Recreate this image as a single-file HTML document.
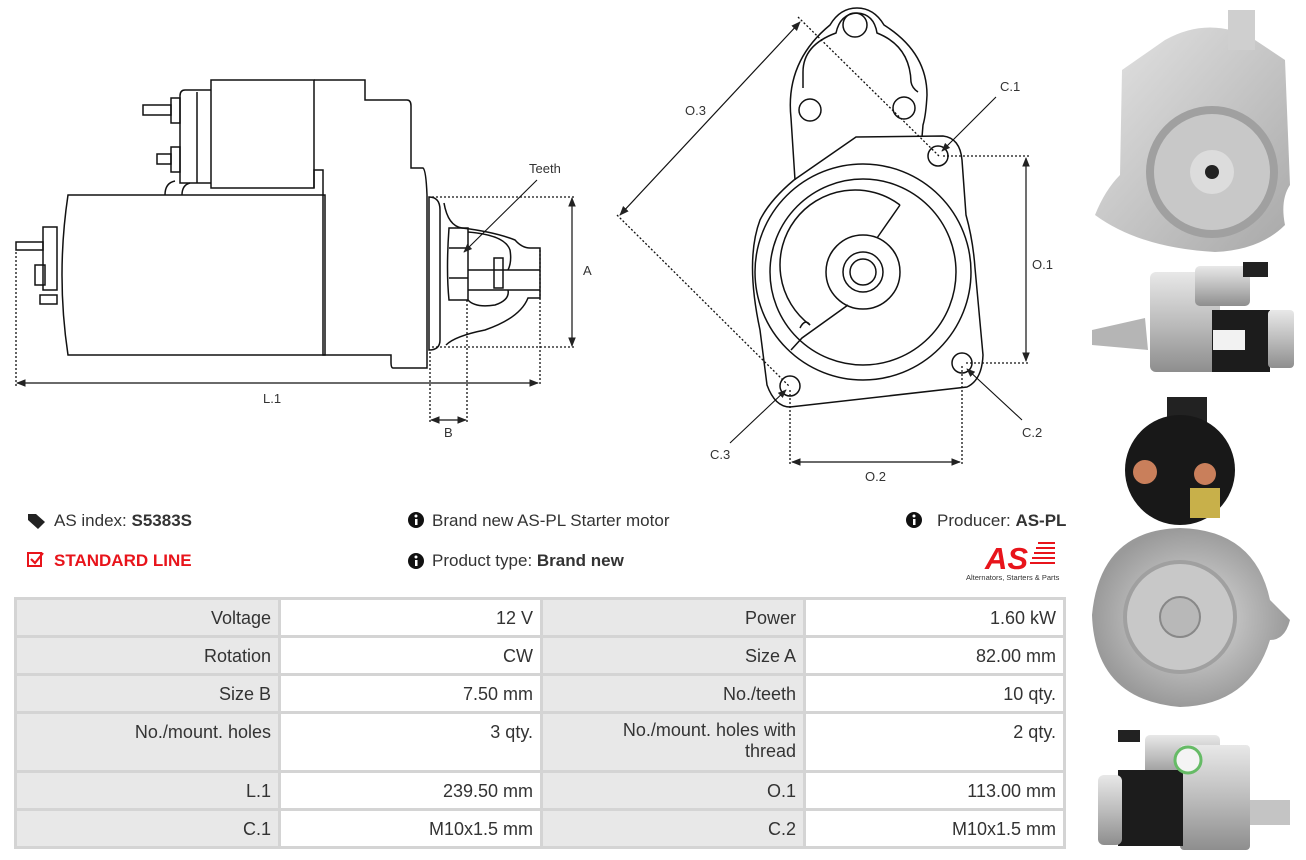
<!DOCTYPE html>
<html><head><meta charset="utf-8"><style>
html,body{margin:0;padding:0;background:#fff;width:1306px;height:860px;overflow:hidden;position:relative;font-family:"Liberation Sans",sans-serif;color:#333}
.t{position:absolute;white-space:nowrap;font-size:17px;line-height:20px}
table{position:absolute;left:14px;top:597px;border-collapse:collapse;width:1052px;font-size:18px;color:#333}
td{border:3px solid #d4d4d4;text-align:right;padding:0 7px;vertical-align:top;padding-top:8px;box-sizing:border-box}
td.l{background:#e8e8e8}
</style></head><body>
<svg width="1306" height="860" style="position:absolute;left:0;top:0" xmlns="http://www.w3.org/2000/svg">
<defs>
<marker id="a" viewBox="0 0 10 10" refX="9" refY="5" markerWidth="8" markerHeight="8" orient="auto-start-reverse"><path d="M0,1 L10,5 L0,9 Z" fill="#222"/></marker>
<linearGradient id="sv" x1="0" y1="0" x2="0" y2="1"><stop offset="0" stop-color="#e8e8e8"/><stop offset=".5" stop-color="#bdbdbd"/><stop offset="1" stop-color="#8e8e8e"/></linearGradient>
<linearGradient id="sv2" x1="0" y1="0" x2="1" y2="1"><stop offset="0" stop-color="#e4e4e4"/><stop offset="1" stop-color="#a8a8a8"/></linearGradient>
<radialGradient id="rg"><stop offset="0" stop-color="#e0e0e0"/><stop offset="1" stop-color="#9a9a9a"/></radialGradient>
</defs>
<g fill="none" stroke="#111" stroke-width="1.5">
<path d="M68,195 L325,195 L325,355 L68,355 Q56,275 68,195 Z"/>
<rect x="43" y="227" width="14" height="63"/>
<rect x="35" y="265" width="10" height="20"/>
<rect x="16" y="242" width="27" height="8"/>
<rect x="40" y="295" width="17" height="9"/>
<rect x="211" y="80" width="103" height="108"/>
<path d="M211,90 L185,90 Q180,90 180,96 L180,183 L211,183"/>
<line x1="197" y1="92" x2="197" y2="183"/>
<rect x="171" y="98" width="9" height="25"/><rect x="143" y="105" width="28" height="10"/>
<rect x="171" y="147" width="9" height="25"/><rect x="157" y="154" width="14" height="10"/>
<path d="M165,195 Q165,183 175,181 M182,195 Q182,185 190,183"/>
<path d="M314,80 L365,80 L365,100 L407,100 Q411,100 411,106 L411,168 L423,168 Q426,170 427,195 L427,350 L427,368 L393,368 Q391,368 391,362 L391,355 L323,355 L323,170 L314,170 L314,188"/>
<path d="M429,197 Q440,197 440,210 L440,340 Q440,350 429,350 Z"/>
<path d="M444,203 Q448,226 462,228 Q495,232 515,240 Q522,248 530,248 L540,248 L540,298 L528,298 Q520,318 485,330 Q455,336 446,345"/>
<path d="M449,228 L468,228 L468,300 L449,300 Q446,270 449,228 Z"/>
<path d="M449,248 L468,248 M449,278 L468,278 M468,270 L540,270 M468,290 L540,290"/>
<rect x="494" y="258" width="9" height="30"/>
<path d="M468,232 Q505,235 510,250 Q512,262 508,270 M508,290 Q510,300 495,305 Q475,308 468,300"/>
<path d="M795,180 L791,118 Q785,62 830,25 Q840,8 857,8 Q874,8 884,25 Q927,52 927,95 Q926,115 923,125 L922,137"/>
<path d="M803,88 L803,72 Q803,45 836,33 Q840,14 857,13 Q874,14 877,33 Q910,46 911,82 Q912,88 918,92"/>
<circle cx="855" cy="25" r="12"/><circle cx="810" cy="110" r="11"/><circle cx="904" cy="108" r="11"/>
<path d="M856,137 L943,136 Q960,138 962,160 L966,215 Q973,240 975,268 L983,355 Q982,380 967,387 L790,407 Q775,407 767,385 L760,330 Q745,260 760,220 Q770,200 794,180 Z"/>
<circle cx="863" cy="272" r="108"/><circle cx="863" cy="272" r="93"/>
<path d="M900,205 A73,73 0 1 0 810,325"/>
<path d="M810,325 Q805,318 800,328 M900,205 L877,238 M848,305 L802,338 L791,350"/>
<circle cx="863" cy="272" r="37"/><circle cx="863" cy="272" r="20"/><circle cx="863" cy="272" r="13"/>
<circle cx="938" cy="156" r="10"/><circle cx="962" cy="363" r="10"/><circle cx="790" cy="386" r="10"/>
</g>
<g fill="none" stroke="#111" stroke-width="1.3" stroke-dasharray="2,2">
<path d="M432,197 L574,197 M432,347 L574,347 M540,250 L540,386 M430,352 L430,424 M467,300 L467,424 M16,252 L16,386"/>
<path d="M798,17 L940,157 M617,215 L790,387 M943,156 L1030,156 M966,363 L1030,363 M790,390 L790,466 M962,366 L962,466"/>
</g>
<g stroke="#111" stroke-width="1.2" fill="none" marker-end="url(#a)" marker-start="url(#a)">
<line x1="572" y1="198" x2="572" y2="346"/>
<line x1="17" y1="383" x2="538" y2="383"/>
<line x1="431" y1="420" x2="466" y2="420"/>
<line x1="800" y1="22" x2="620" y2="215"/>
<line x1="1026" y1="158" x2="1026" y2="361"/>
<line x1="792" y1="462" x2="960" y2="462"/>
</g>
<g stroke="#111" stroke-width="1.1" fill="none" marker-end="url(#a)">
<line x1="537" y1="180" x2="464" y2="252"/>
<line x1="996" y1="97" x2="942" y2="151"/>
<line x1="1022" y1="420" x2="967" y2="369"/>
<line x1="730" y1="443" x2="786" y2="390"/>
</g>
<g font-family="Liberation Sans,sans-serif" font-size="13" fill="#333">
<text x="529" y="173">Teeth</text><text x="583" y="275">A</text><text x="263" y="403">L.1</text><text x="444" y="437">B</text>
<text x="685" y="115">O.3</text><text x="1000" y="91">C.1</text><text x="1032" y="269">O.1</text><text x="1022" y="437">C.2</text><text x="710" y="459">C.3</text><text x="865" y="481">O.2</text>
</g>
<g>
<path d="M1165,40 Q1210,15 1255,40 L1285,60 L1290,185 Q1280,200 1285,225 Q1260,250 1215,252 Q1140,248 1095,215 Q1105,190 1120,175 L1122,70 Z" fill="url(#sv2)"/>
<rect x="1228" y="10" width="27" height="40" fill="#cfcfcf"/>
<circle cx="1212" cy="172" r="62" fill="#c8c8c8" stroke="#a0a0a0" stroke-width="8"/>
<circle cx="1212" cy="172" r="22" fill="#dcdcdc"/><circle cx="1212" cy="172" r="7" fill="#222"/>
<rect x="1150" y="272" width="70" height="100" rx="6" fill="url(#sv)"/>
<rect x="1195" y="266" width="55" height="40" rx="5" fill="url(#sv)"/>
<rect x="1212" y="310" width="58" height="62" fill="#1c1c1c"/>
<rect x="1213" y="330" width="32" height="20" fill="#f2f2f2"/>
<rect x="1268" y="310" width="26" height="58" rx="4" fill="url(#sv)"/>
<path d="M1092,330 L1145,318 L1148,350 L1092,345 Z" fill="#b5b5b5"/>
<rect x="1243" y="262" width="25" height="15" fill="#222"/>
<rect x="1167" y="397" width="40" height="45" fill="#222"/>
<circle cx="1180" cy="470" r="55" fill="#181818"/>
<path d="M1092,615 Q1100,530 1180,528 Q1255,530 1270,600 L1290,620 Q1285,640 1270,640 Q1250,705 1180,707 Q1095,700 1092,615 Z" fill="url(#rg)"/>
<circle cx="1180" cy="617" r="55" fill="#c8c8c8" stroke="#a0a0a0" stroke-width="4"/>
<circle cx="1180" cy="617" r="20" fill="#b8b8b8" stroke="#888" stroke-width="2"/>
<rect x="1190" y="488" width="30" height="30" fill="#c8b04a"/>
<circle cx="1145" cy="472" r="12" fill="#c97f5b"/><circle cx="1205" cy="474" r="11" fill="#c97f5b"/>
<rect x="1145" y="735" width="75" height="45" rx="5" fill="url(#sv)"/>
<rect x="1180" y="745" width="70" height="105" rx="4" fill="url(#sv)"/>
<rect x="1118" y="770" width="65" height="76" fill="#1c1c1c"/>
<rect x="1098" y="775" width="24" height="70" rx="6" fill="url(#sv)"/>
<rect x="1250" y="800" width="40" height="25" fill="#c4c4c4"/>
<circle cx="1188" cy="760" r="13" fill="#f4f4f4" stroke="#6b6" stroke-width="3"/>
<rect x="1118" y="730" width="22" height="12" fill="#222"/>
</g>
<path d="M28,514 L36,514 L45,522 L38,529 L28,520 Z" fill="#222"/>
<rect x="28" y="553" width="13" height="13" fill="none" stroke="#e8141b" stroke-width="2"/>
<path d="M31,559 L35,563 L43,553" fill="none" stroke="#e8141b" stroke-width="2.2"/>
<g fill="#111"><circle cx="416" cy="520" r="8"/><circle cx="416" cy="561" r="8"/><circle cx="914" cy="520" r="8"/></g>
<g fill="#fff"><rect x="415" y="519" width="2.5" height="6"/><circle cx="416" cy="516" r="1.5"/><rect x="415" y="560" width="2.5" height="6"/><circle cx="416" cy="557" r="1.5"/><rect x="913" y="519" width="2.5" height="6"/><circle cx="914" cy="516" r="1.5"/></g>
<text x="985" y="569" font-family="Liberation Sans,sans-serif" font-size="31" font-weight="bold" font-style="italic" fill="#e8141b">AS</text>
<g fill="#e8141b"><rect x="1038" y="542" width="17" height="2"/><rect x="1036" y="547" width="19" height="2"/><rect x="1034" y="552" width="21" height="2"/><rect x="1032" y="557" width="23" height="2"/><rect x="1030" y="562" width="25" height="2"/></g>
<text x="966" y="580" font-family="Liberation Sans,sans-serif" font-size="7.5" fill="#333">Alternators, Starters &amp; Parts</text>
</svg>
<div class="t" style="left:54px;top:511px">AS index: <b>S5383S</b></div>
<div class="t" style="left:54px;top:551px;color:#e8141b;font-weight:bold">STANDARD LINE</div>
<div class="t" style="left:432px;top:511px">Brand new AS-PL Starter motor</div>
<div class="t" style="left:432px;top:551px">Product type: <b>Brand new</b></div>
<div class="t" style="left:937px;top:511px">Producer: <b>AS-PL</b></div>
<table>
<tr style="height:38px"><td class="l" style="width:264px">Voltage</td><td style="width:262px">12 V</td><td class="l" style="width:263px">Power</td><td>1.60 kW</td></tr>
<tr style="height:38px"><td class="l">Rotation</td><td>CW</td><td class="l">Size A</td><td>82.00 mm</td></tr>
<tr style="height:38px"><td class="l">Size B</td><td>7.50 mm</td><td class="l">No./teeth</td><td>10 qty.</td></tr>
<tr style="height:59px"><td class="l">No./mount. holes</td><td>3 qty.</td><td class="l" style="line-height:21px;padding-top:6px">No./mount. holes with<br>thread</td><td>2 qty.</td></tr>
<tr style="height:38px"><td class="l">L.1</td><td>239.50 mm</td><td class="l">O.1</td><td>113.00 mm</td></tr>
<tr style="height:38px"><td class="l">C.1</td><td>M10x1.5 mm</td><td class="l">C.2</td><td>M10x1.5 mm</td></tr>
</table>
</body></html>
